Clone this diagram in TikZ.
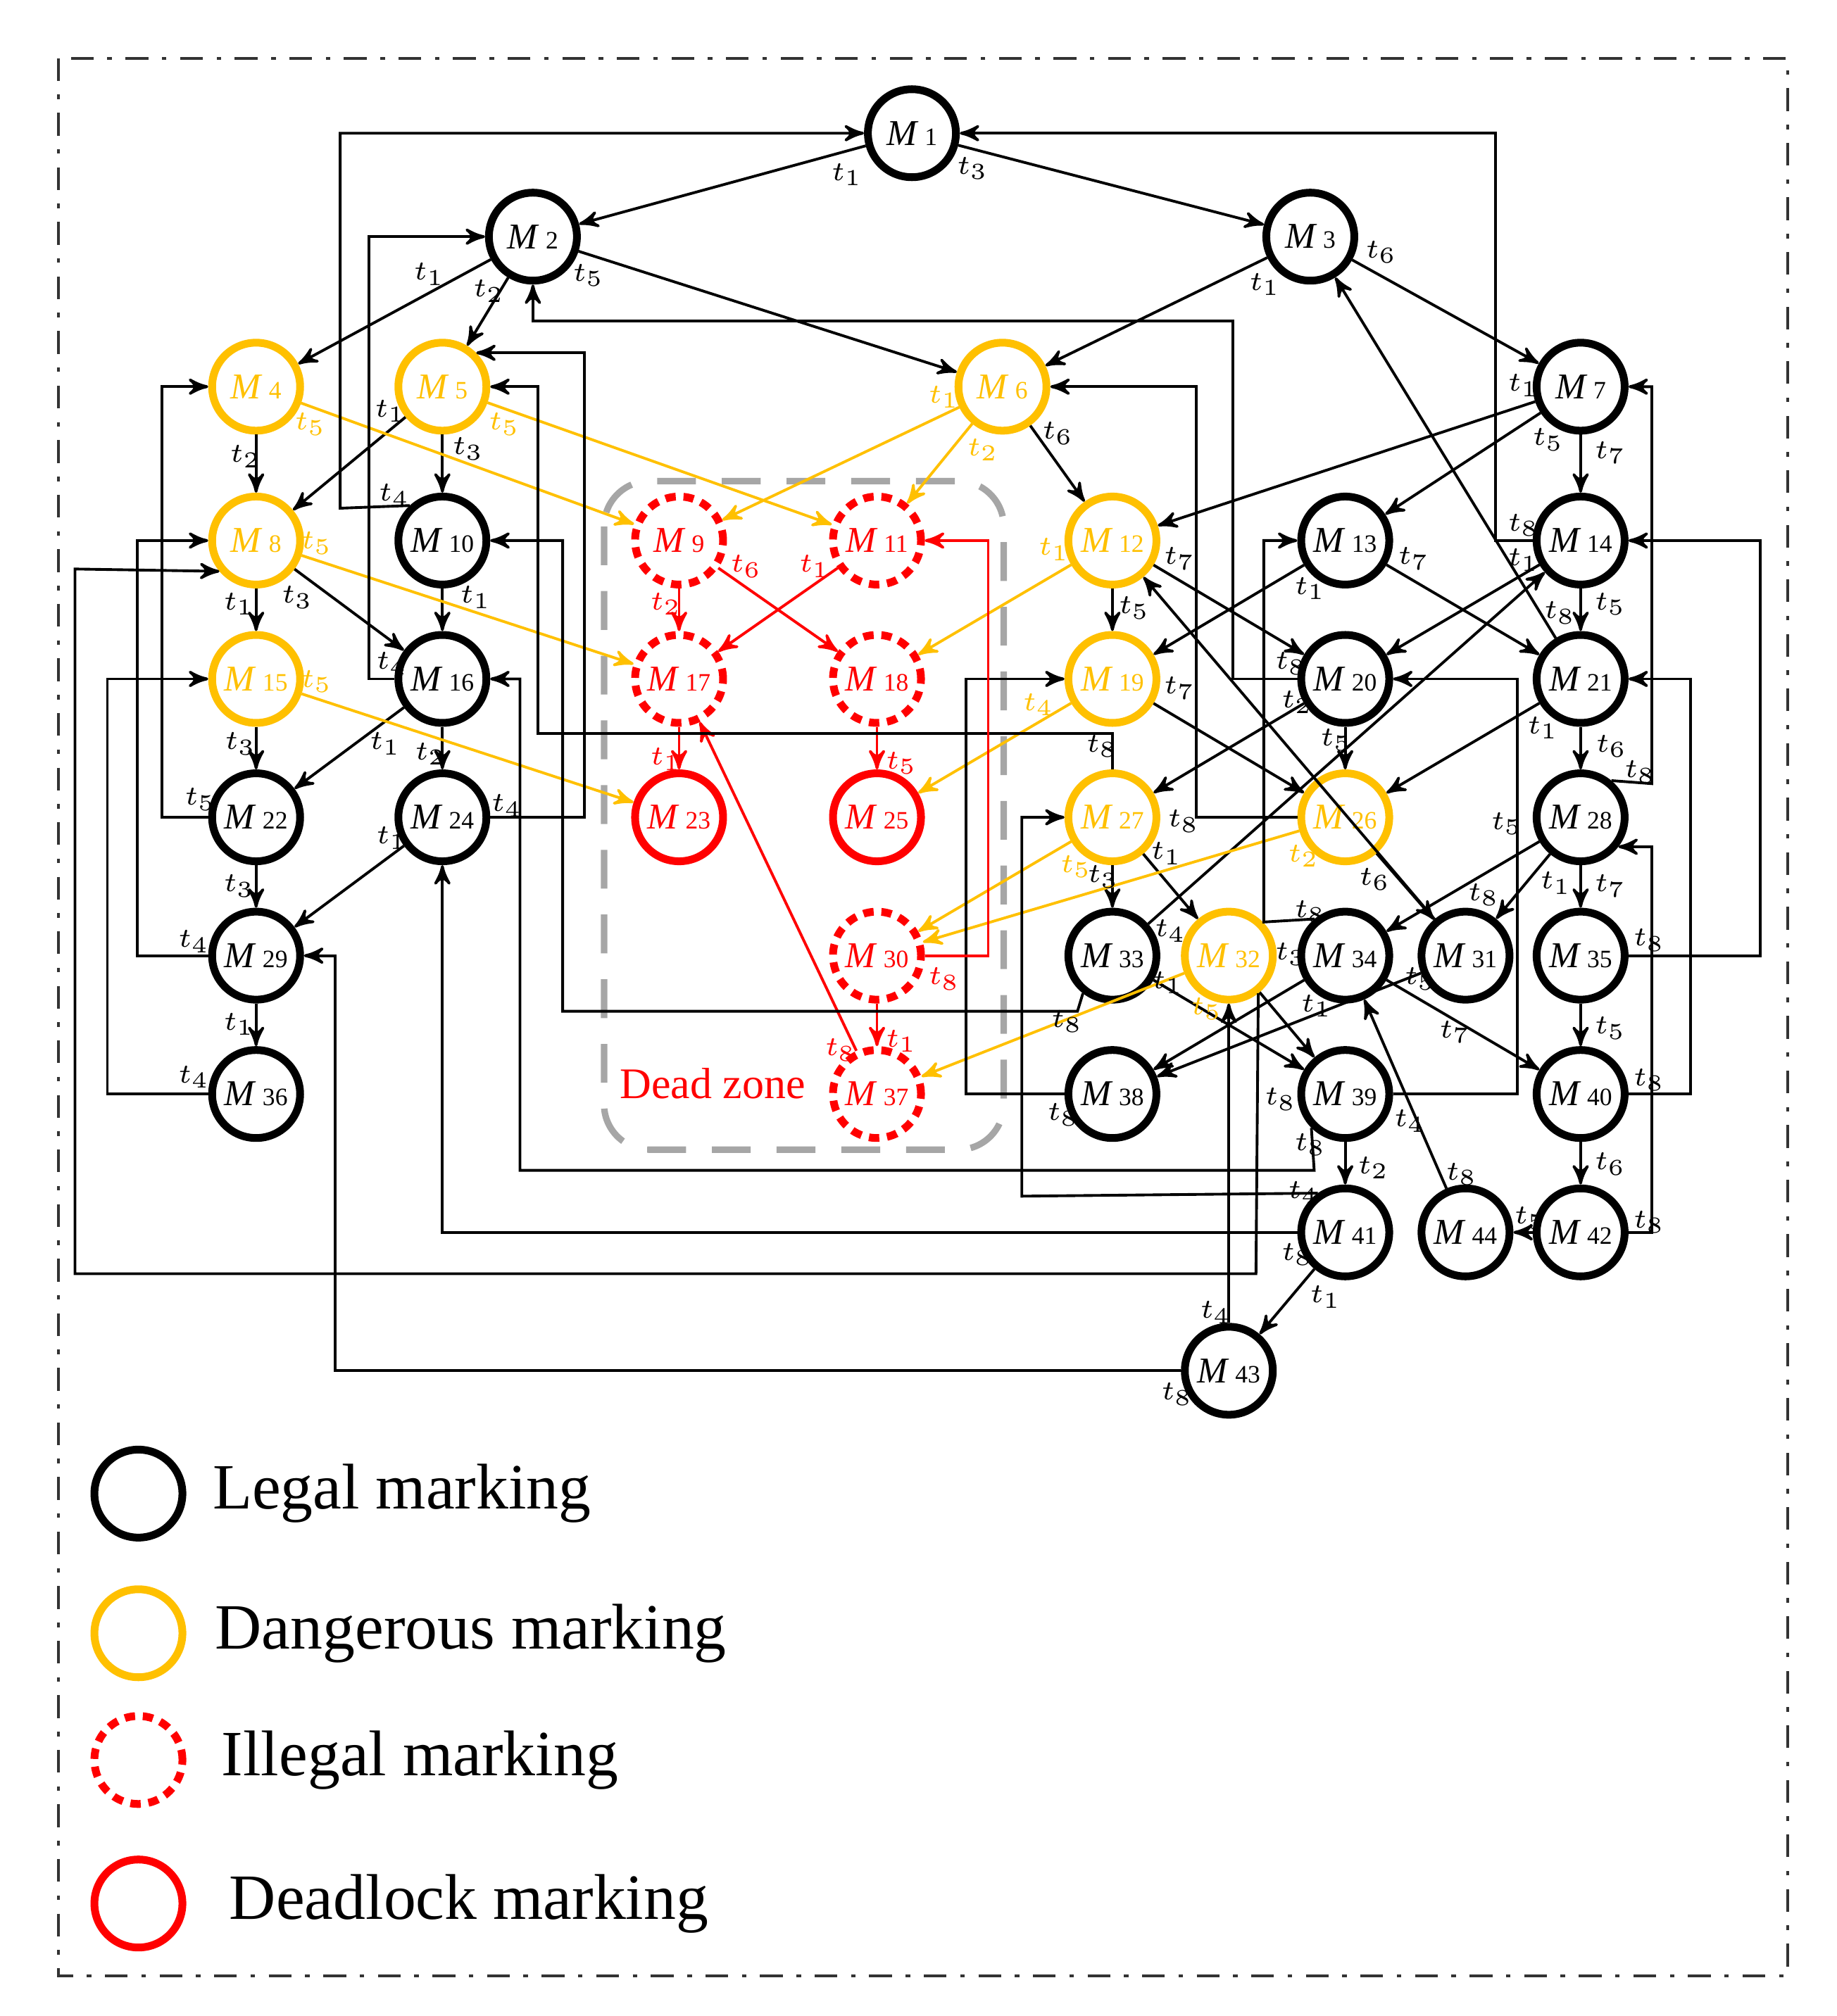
\documentclass[tikz,border=0pt]{standalone}
\usepackage{fontspec}
\setmainfont{Liberation Serif}
\usetikzlibrary{arrows}
\definecolor{warn}{HTML}{FFC000}
\definecolor{dz}{HTML}{A6A6A6}
\tikzstyle{marking} = [circle, minimum size=0.68cm, inner sep=0pt, line width=0.06cm]
\tikzstyle{legal} = [marking, draw=black, text=black]
\tikzstyle{danger} = [marking, draw=warn, text=warn]
\tikzstyle{illegal} = [marking, draw=red, text=red, dash pattern=on 0.08cm off 0.06cm]
\tikzstyle{dead} = [marking, draw=red, text=red]
\tikzstyle{arrow} = [->,>=stealth',line width=0.6pt]
\tikzstyle{lbl} = [inner sep=0pt, font=\fontsize{6.5}{7}\selectfont]
\newcommand{\mk}[1]{\fontsize{8}{9}\selectfont\textit{M}\,{\fontsize{5.5}{6}\selectfont #1}}
\newcounter{lab}
\newcommand{\lb}[4][black]{\stepcounter{lab}\node[lbl,text=#1] (t\arabic{lab}) at (#2,#3) {$t_{#4}$};}

\begin{document}
\begin{tikzpicture}[x=0.01cm, y=-0.01cm]
  \useasboundingbox (0,0) rectangle (1420,1559);

  % frame
  \draw [dash pattern=on 5pt off 3pt on 1pt off 3pt, line width=0.6pt, black!80] (45,45) rectangle (1382,1528);

  % dead zone
  \draw [dz, line width=0.05cm, dash pattern=on 0.3cm off 0.2cm, rounded corners=0.35cm] (467,372) rectangle (776,889);
  \node [text=red, font=\fontsize{9.6}{11}\selectfont] (dzone) at (551,838) {Dead zone};

  % markings
  \node [legal]   (m1)  at (705,103) {\mk{1}};
  \node [legal]   (m2)  at (412,183) {\mk{2}};
  \node [legal]   (m3)  at (1013,183) {\mk{3}};
  \node [danger]  (m4)  at (198,299) {\mk{4}};
  \node [danger]  (m5)  at (342,299) {\mk{5}};
  \node [danger]  (m6)  at (775,299) {\mk{6}};
  \node [legal]   (m7)  at (1222,299) {\mk{7}};
  \node [danger]  (m8)  at (198,418) {\mk{8}};
  \node [illegal] (m9)  at (525,418) {\mk{9}};
  \node [legal]   (m10) at (342,418) {\mk{10}};
  \node [illegal] (m11) at (678,418) {\mk{11}};
  \node [danger]  (m12) at (860,418) {\mk{12}};
  \node [legal]   (m13) at (1040,418) {\mk{13}};
  \node [legal]   (m14) at (1222,418) {\mk{14}};
  \node [danger]  (m15) at (198,525) {\mk{15}};
  \node [legal]   (m16) at (342,525) {\mk{16}};
  \node [illegal] (m17) at (525,525) {\mk{17}};
  \node [illegal] (m18) at (678,525) {\mk{18}};
  \node [danger]  (m19) at (860,525) {\mk{19}};
  \node [legal]   (m20) at (1040,525) {\mk{20}};
  \node [legal]   (m21) at (1222,525) {\mk{21}};
  \node [legal]   (m22) at (198,632) {\mk{22}};
  \node [dead]    (m23) at (525,632) {\mk{23}};
  \node [legal]   (m24) at (342,632) {\mk{24}};
  \node [dead]    (m25) at (678,632) {\mk{25}};
  \node [danger]  (m26) at (1040,632) {\mk{26}};
  \node [danger]  (m27) at (860,632) {\mk{27}};
  \node [legal]   (m28) at (1222,632) {\mk{28}};
  \node [legal]   (m29) at (198,739) {\mk{29}};
  \node [illegal] (m30) at (678,739) {\mk{30}};
  \node [legal]   (m31) at (1133,739) {\mk{31}};
  \node [danger]  (m32) at (950,739) {\mk{32}};
  \node [legal]   (m33) at (860,739) {\mk{33}};
  \node [legal]   (m34) at (1040,739) {\mk{34}};
  \node [legal]   (m35) at (1222,739) {\mk{35}};
  \node [legal]   (m36) at (198,846) {\mk{36}};
  \node [illegal] (m37) at (678,846) {\mk{37}};
  \node [legal]   (m38) at (860,846) {\mk{38}};
  \node [legal]   (m39) at (1040,846) {\mk{39}};
  \node [legal]   (m40) at (1222,846) {\mk{40}};
  \node [legal]   (m41) at (1040,953) {\mk{41}};
  \node [legal]   (m42) at (1222,953) {\mk{42}};
  \node [legal]   (m43) at (950,1060) {\mk{43}};
  \node [legal]   (m44) at (1133,953) {\mk{44}};

  % straight arcs
  \foreach \a/\b in {m1/m2,m1/m3,m2/m4,m2/m5,m2/m6,m3/m6,m3/m7,m4/m8,m5/m8,m5/m10,m6/m12,m7/m12,m7/m13,m7/m14,
                     m8/m15,m8/m16,m10/m16,m12/m19,m12/m20,m13/m19,m13/m21,m14/m21,m14/m20,m15/m22,m16/m22,m16/m24,
                     m19/m26,m20/m27,m20/m26,m21/m26,m21/m28,m21/m3,m22/m29,m24/m29,m27/m33,m27/m32,m26/m31,m28/m34,
                     m28/m31,m28/m35,m29/m36,m31/m12,m32/m39,m33/m39,m33/m14,m34/m38,m34/m40,m31/m38,m35/m40,m39/m41,
                     m40/m42,m42/m44,m44/m34,m41/m43,m43/m32}
    \draw [arrow] (\a) -- (\b);
  \foreach \a/\b in {m4/m9,m5/m11,m6/m9,m6/m11,m8/m17,m12/m18,m15/m23,m19/m25,m27/m30,m26/m30,m32/m37}
    \draw [arrow, warn] (\a) -- (\b);
  \foreach \a/\b in {m9/m17,m9/m18,m11/m17,m17/m23,m18/m25,m30/m37,m37/m17}
    \draw [arrow, red] (\a) -- (\b);

  % routed arcs
  \draw [arrow] (m10.133) -- (263,393) |- (m1);
  \draw [arrow] (m14) -- (1156,418) |- (m1);
  \draw [arrow] (m16) -- (285,525) |- (m2);
  \draw [arrow] (m20) -- (953,525) -- (953,248) -| (m2);
  \draw [arrow] (m24) -- (452,632) |- (m5.45);
  \draw [arrow] (m27) |- (416,567) |- (m5);
  \draw [arrow] (m26) -- (925,632) |- (m6);
  \draw [arrow] (m28.50) -- (1277,606) |- (m7);
  \draw [arrow] (m22) -- (125,632) |- (m4);
  \draw [arrow] (m29) -- (106,739) |- (m8);
  \draw [arrow] (m32.-52) -- (971,985) -- (58,985) -- (58,440) -- (m8.220);
  \draw [arrow] (m36) -- (83,846) |- (m15);
  \draw [arrow] (m33.-128) -- (833,782) -- (435,782) |- (m10);
  \draw [arrow] (m39.-135) -- (1016,905) -- (402,905) |- (m16);
  \draw [arrow] (m41) -| (m24);
  \draw [arrow] (m41.125) -- (790,925) |- (m27);
  \draw [arrow] (m43) -- (259,1060) |- (m29);
  \draw [arrow] (m38) -- (747,846) |- (m19);
  \draw [arrow] (m34.130) -- (977,713) |- (m13);
  \draw [arrow] (m39) -- (1173,846) |- (m20);
  \draw [arrow] (m35) -- (1361,739) |- (m14);
  \draw [arrow] (m40) -- (1307,846) |- (m21);
  \draw [arrow] (m42) -- (1277,953) |- (m28.-38);
  \draw [arrow, red] (m30) -- (764,739) |- (m11);

  % transition labels
  \lb{655}{135}{1} \lb{752}{130}{3}
  \lb{332}{212}{1} \lb{378}{225}{2} \lb{455}{213}{5}
  \lb{978}{220}{1} \lb{1068}{195}{6}
  \lb[warn]{240}{328}{5} \lb{190}{353}{2}
  \lb{302}{318}{1} \lb[warn]{390}{328}{5} \lb{362}{347}{3}
  \lb[warn]{730}{307}{1} \lb[warn]{760}{348}{2} \lb{818}{335}{6}
  \lb{1178}{298}{1} \lb{1197}{340}{5} \lb{1245}{350}{7}
  \lb[warn]{245}{420}{5} \lb{185}{467}{1} \lb{230}{462}{3}
  \lb{305}{383}{4} \lb{368}{462}{1}
  \lb[red]{577}{438}{6} \lb[red]{515}{467}{2} \lb[red]{630}{438}{1}
  \lb[warn]{815}{425}{1} \lb{912}{432}{7} \lb{877}{470}{5}
  \lb{1093}{432}{7} \lb{1013}{455}{1}
  \lb{1178}{406}{8} \lb{1178}{433}{1} \lb{1206}{474}{8} \lb{1245}{467}{5}
  \lb{303}{513}{4} \lb[warn]{245}{527}{5}
  \lb[warn]{803}{545}{4} \lb{912}{532}{7}
  \lb{998}{513}{8} \lb{1003}{543}{2} \lb{1033}{572}{5}
  \lb{1193}{563}{1} \lb{1246}{577}{6} \lb{1268}{597}{8}
  \lb{186}{575}{3} \lb{298}{575}{1} \lb{333}{583}{2} \lb{155}{618}{5} \lb{185}{685}{3}
  \lb{392}{623}{4} \lb{303}{648}{1}
  \lb[red]{515}{587}{1} \lb[red]{697}{590}{5}
  \lb{852}{577}{8} \lb{915}{635}{8} \lb{902}{660}{1} \lb[warn]{832}{670}{5} \lb{853}{678}{3}
  \lb[warn]{1008}{662}{2} \lb{1063}{680}{6}
  \lb{1165}{637}{5} \lb{1203}{683}{1} \lb{1245}{685}{7}
  \lb{150}{728}{4} \lb{185}{792}{1}
  \lb{905}{720}{4} \lb{903}{760}{1} \lb{825}{790}{8}
  \lb[warn]{933}{780}{5} \lb{998}{738}{3}
  \lb{1013}{705}{8} \lb{1018}{778}{1} \lb{1098}{757}{5} \lb{1125}{798}{7}
  \lb{1147}{692}{8}
  \lb{1275}{727}{8} \lb{1245}{795}{5}
  \lb[red]{730}{757}{8} \lb[red]{697}{805}{1} \lb[red]{650}{812}{8}
  \lb{150}{833}{4} \lb{822}{862}{8}
  \lb{990}{850}{8} \lb{1090}{867}{4} \lb{1013}{885}{8} \lb{1062}{903}{2}
  \lb{1275}{835}{8} \lb{1245}{900}{6}
  \lb{1130}{908}{8} \lb{1183}{942}{5} \lb{1275}{945}{8}
  \lb{1008}{922}{4} \lb{1003}{970}{8} \lb{1025}{1003}{1}
  \lb{940}{1015}{4} \lb{910}{1078}{8}

  % legend
  \node [legal]   (keylegal)   at (107,1155) {};
  \node [danger]  (keydanger)  at (107,1263) {};
  \node [illegal] (keyillegal) at (107,1361) {};
  \node [dead]    (keydead)    at (107,1472) {};
  \node [anchor=west, font=\fontsize{14.2}{16}\selectfont] (txtlegal)   at (152,1155) {Legal marking};
  \node [anchor=west, font=\fontsize{14.2}{16}\selectfont] (txtdanger)  at (154,1263) {Dangerous marking};
  \node [anchor=west, font=\fontsize{14.2}{16}\selectfont] (txtillegal) at (159,1361) {Illegal marking};
  \node [anchor=west, font=\fontsize{14.2}{16}\selectfont] (txtdead)    at (165,1472) {Deadlock marking};

\end{tikzpicture}
\end{document}
